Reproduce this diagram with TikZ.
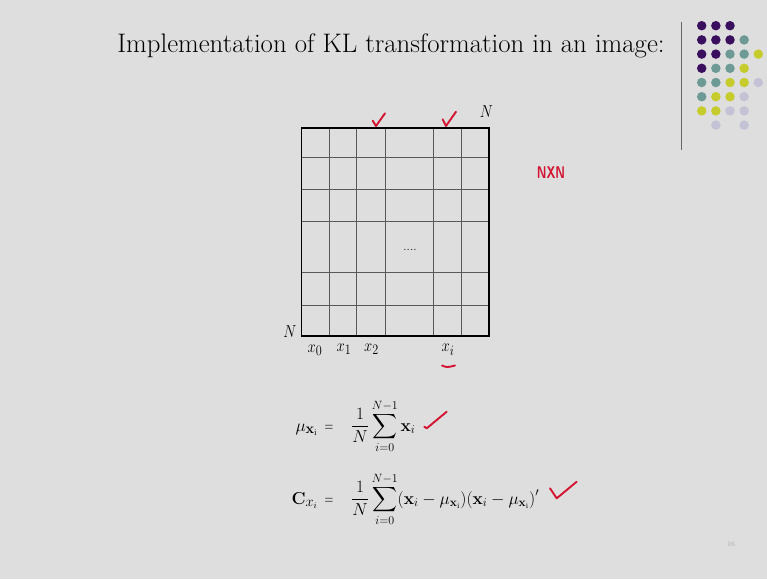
\documentclass[tikz,border=0pt]{standalone}
\usepackage{exscale}
\usetikzlibrary{positioning}
\definecolor{Slide}{HTML}{DEDEDE}
\definecolor{Pen}{HTML}{D31430}
\definecolor{Plum}{HTML}{3A0F5E}
\definecolor{Sage}{HTML}{6E9A95}
\definecolor{Lime}{HTML}{C6CC2C}
\definecolor{Mist}{HTML}{C4C2D5}
\newcommand{\nar}[1]{\scalebox{0.85}[1]{#1}}

\begin{document}
\begin{tikzpicture}[x=1pt,y=-1pt, g/.style={draw=black!65,line width=0.7pt}, lbl/.style={inner sep=0pt,font=\fontsize{19}{21}\selectfont}, eqn/.style={inner sep=0pt,font=\fontsize{17}{20}\selectfont}, lhs/.style={inner sep=0pt,anchor=base east,font=\fontsize{19}{21}\selectfont}, pen/.style={draw=Pen,line width=1.9pt,line cap=round,line join=round}, dot/.style={circle,inner sep=0pt,minimum size=9.5pt}]
  \fill[Slide] (0,0) rectangle (767,579);
  \useasboundingbox (0,0) rectangle (767,579);
  % title and logo
  \node[inner sep=0pt,anchor=base,font=\fontsize{26.8}{30}\selectfont] (ttl) at (391,52) {Implementation of KL transformation in an image:};
  \draw[black!60,line width=1pt] (681,22) -- (681,150);
  \foreach \c/\r/\k in {0/0/Plum,1/0/Plum,2/0/Plum, 0/1/Plum,1/1/Plum,2/1/Plum,3/1/Sage,
      0/2/Plum,1/2/Plum,2/2/Sage,3/2/Sage,4/2/Lime, 0/3/Plum,1/3/Sage,2/3/Sage,3/3/Lime,
      0/4/Sage,1/4/Sage,2/4/Lime,3/4/Lime,4/4/Mist, 0/5/Sage,1/5/Lime,2/5/Lime,3/5/Mist,
      0/6/Lime,1/6/Lime,2/6/Mist,3/6/Mist, 1/7/Mist,3/7/Mist}
    \node[dot,fill=\k] (d-\c-\r) at ({701.7+14.15*\c},{25.7+14.2*\r}) {};
  % image grid
  \coordinate (sw) at (301.5,336); \coordinate (ne) at (489.3,128.3);
  \foreach \x in {329,356.7,385.7,433.3,461.7} \draw[g] (\x,128.3) -- (\x,336);
  \foreach \y in {157.3,189,221.7,272.3,305} \draw[g] (301.5,\y) -- (489.3,\y);
  \draw[line width=1.8pt] (sw) rectangle (ne);
  \node[font=\fontsize{12}{12}\selectfont,inner sep=0pt] (dots) at (410,250) {....};
  \node[lbl] (nl) at (290,331.5) {\nar{$N$}}; \node[lbl] (nt) at (486.5,111.5) {\nar{$N$}};
  \node[lbl] (x0) at (315,350) {\nar{$x_0$}}; \node[lbl] (x1) at (344,349) {\nar{$x_1$}};
  \node[lbl] (x2) at (371.5,349) {\nar{$x_2$}}; \node[lbl] (xi) at (448,350) {\nar{$x_i$}};
  % formulas
  \node[lhs] (mu) at (318,431) {$\mu_{\mathbf{x}_\mathrm{i}}$};
  \node[eqn,anchor=base] (eqa) at (329,431) {\scalebox{0.7}[1]{$=$}};
  \node[eqn,anchor=base west] (sa) at (351,431) {$\displaystyle\frac{1}{N}\sum_{i=0}^{N-1}\mathbf{x}_i$};
  \node[lhs] (cx) at (318,504) {$\mathbf{C}_{x_i}$};
  \node[eqn,anchor=base] (eqb) at (329,504) {\scalebox{0.7}[1]{$=$}};
  \node[eqn,anchor=base west] (sb) at (351,504) {$\displaystyle\frac{1}{N}\sum_{i=0}^{N-1}(\mathbf{x}_i-\mu_{\mathbf{x}_\mathrm{i}})(\mathbf{x}_i-\mu_{\mathbf{x}_\mathrm{i}})'$};
  % pen marks
  \draw[pen] (372.7,120.7) -- (376,126) -- (385,113.3);
  \draw[pen] (442.7,119.3) -- (446,126) -- (456,111.7);
  \draw[pen] (442,365.5) .. controls (447,367.5) .. (455,365.5);
  \draw[pen] (424.3,426.7) -- (426.7,428.3) -- (446.7,411.7);
  \draw[pen] (550,488.3) -- (556.7,498.3) -- (576.7,481.7);
  \node[text=Pen,inner sep=0pt,font=\sffamily\bfseries\fontsize{17}{17}\selectfont] (nxn) at (551,173) {\scalebox{0.72}[1]{NXN}};
  \node[text=black!35,inner sep=0pt,font=\fontsize{7}{7}\selectfont] (pg) at (731,544) {16};
\end{tikzpicture}
\end{document}
